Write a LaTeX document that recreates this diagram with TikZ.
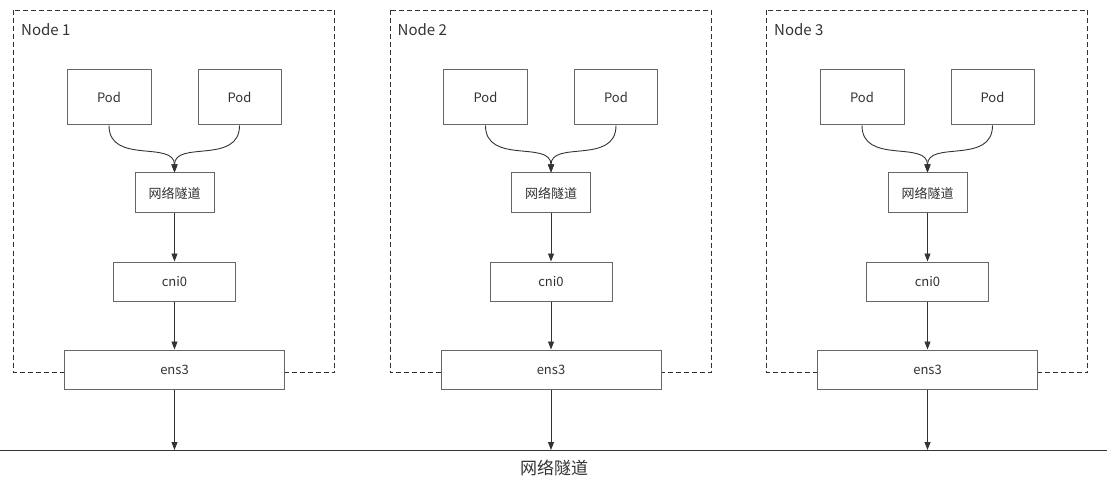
\documentclass[tikz,border=0pt]{standalone}
\usepackage{fontspec}
\setmainfont{Noto Sans CJK SC}
\usetikzlibrary{arrows.meta}
\definecolor{boxgray}{HTML}{666666}
\definecolor{txt}{HTML}{333333}
\begin{document}
\begin{tikzpicture}[x=1pt,y=-1pt,
  box/.style={draw=boxgray,line width=1pt,fill=white,text=txt,inner sep=0pt,font=\fontsize{13}{15}\selectfont},
  frame/.style={draw=txt,dashed,dash pattern=on 5pt off 3pt,line width=0.8pt},
  conn/.style={draw=txt,line width=0.9pt,-{Triangle[width=6pt,length=8pt]}},
  title/.style={text=txt,anchor=west,inner sep=0pt,font=\fontsize{15}{17}\selectfont}]
\useasboundingbox (0,0) rectangle (1107,486);
\foreach \i/\dx in {1/0,2/376.5,3/753}{
  \begin{scope}[shift={(\dx,0)}]
    \draw[frame] (13.5,10.5) rectangle (334.5,372.5);
    \node[title] (t\i) at (21,30) {Node \i};
    \node[box,minimum width=84pt,minimum height=55pt] (pa\i) at (109,97.5) {Pod};
    \node[box,minimum width=83pt,minimum height=55pt] (pb\i) at (239.5,97.5) {Pod};
    \node[box,minimum width=79pt,minimum height=40pt] (tu\i) at (174.5,193) {网络隧道};
    \node[box,minimum width=122pt,minimum height=39pt] (cn\i) at (174.5,281.5) {cni0};
    \node[box,minimum width=220pt,minimum height=39pt] (en\i) at (174.5,369.5) {ens3};
    \coordinate (bt\i) at (174.5,450);
    \draw[conn] (pa\i.south) .. controls (109,165) and (174.5,140) .. (tu\i.north);
    \draw[conn] (pb\i.south) .. controls (239.5,165) and (174.5,140) .. (tu\i.north);
    \draw[conn] (tu\i.south) -- (tu\i.south |- cn\i.north);
    \draw[conn] (cn\i.south) -- (cn\i.south |- en\i.north);
    \draw[conn] (en\i.south) -- (en\i.south |- bt\i);
  \end{scope}
}
\coordinate (l0) at (0,450);
\coordinate (l1) at (1107,450);
\draw[draw=txt,line width=1pt] (l0) -- (l1);
\node[text=txt,font=\fontsize{17}{19}\selectfont] (lab) at (554,468) {网络隧道};
\end{tikzpicture}
\end{document}
